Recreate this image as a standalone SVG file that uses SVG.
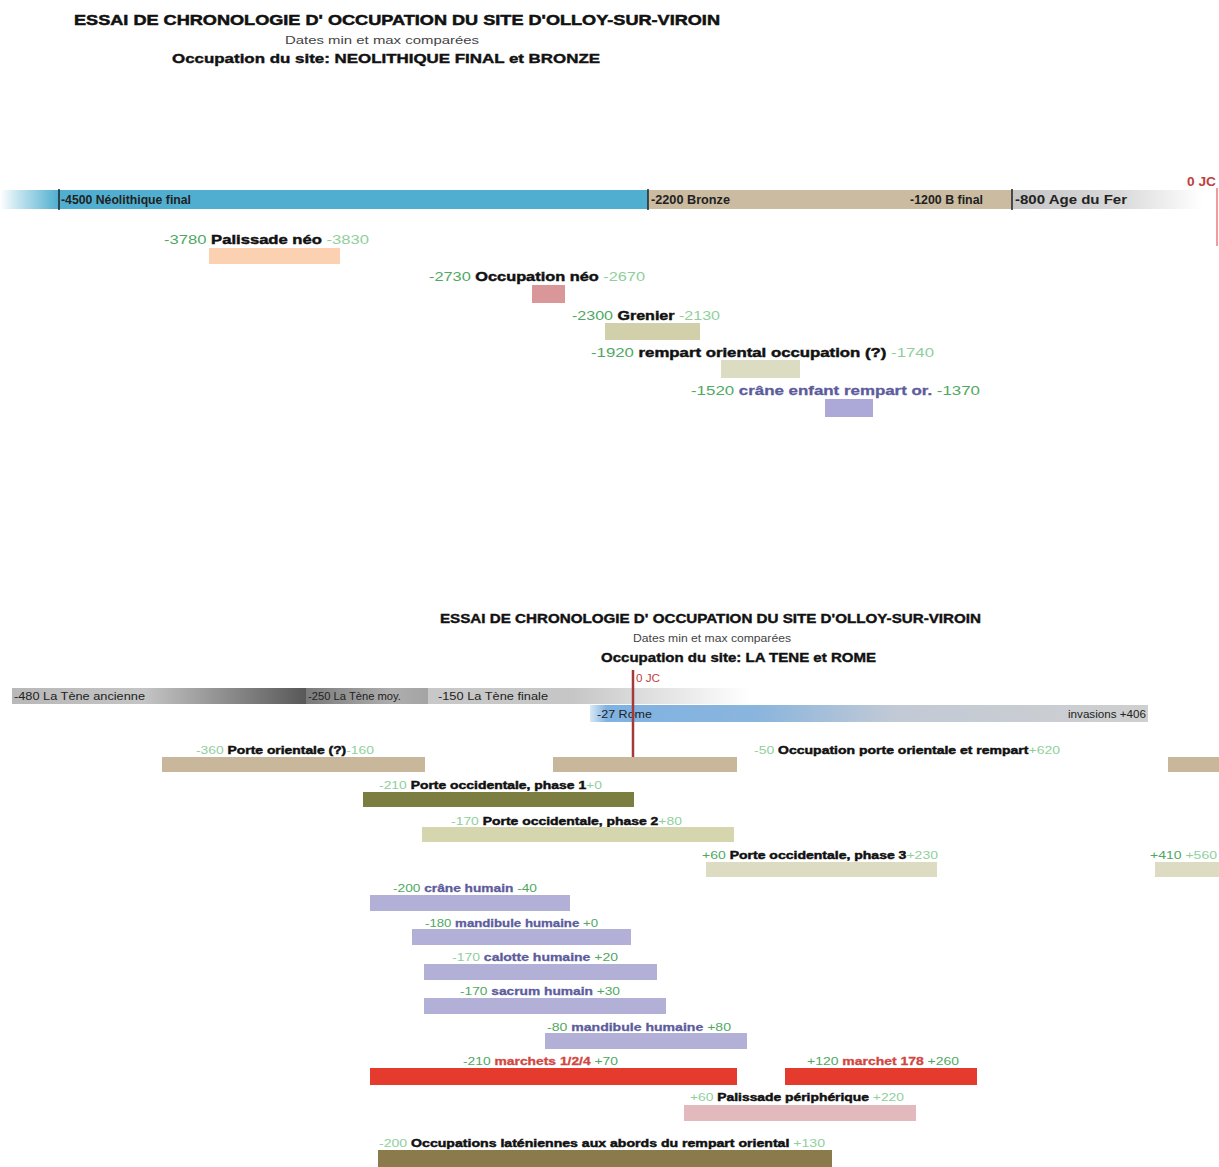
<svg xmlns="http://www.w3.org/2000/svg" width="1219" height="1167" viewBox="0 0 1219 1167">
<defs>
<linearGradient id="gBlue" x1="0" x2="1" y1="0" y2="0"><stop offset="0" stop-color="#50afd0" stop-opacity="0"/><stop offset="0.02" stop-color="#50afd0" stop-opacity="0.25"/><stop offset="0.09" stop-color="#50afd0"/><stop offset="1" stop-color="#50afd0"/></linearGradient>
<linearGradient id="gFer" x1="0" x2="1" y1="0" y2="0"><stop offset="0" stop-color="#c6c6c6"/><stop offset="0.55" stop-color="#d8d8d8"/><stop offset="1" stop-color="#ffffff"/></linearGradient>
<linearGradient id="gTA" x1="0" x2="1" y1="0" y2="0"><stop offset="0" stop-color="#b8b8b8"/><stop offset="0.45" stop-color="#c4c4c4"/><stop offset="1" stop-color="#585858"/></linearGradient>
<linearGradient id="gTM" x1="0" x2="1" y1="0" y2="0"><stop offset="0" stop-color="#7a7a7a"/><stop offset="0.7" stop-color="#aeaeae"/><stop offset="1" stop-color="#a4a4a4"/></linearGradient>
<linearGradient id="gTF" x1="0" x2="1" y1="0" y2="0"><stop offset="0" stop-color="#c8c8c8"/><stop offset="0.45" stop-color="#c6c6c6"/><stop offset="1" stop-color="#ffffff"/></linearGradient>
<linearGradient id="gRome" x1="0" x2="1" y1="0" y2="0"><stop offset="0" stop-color="#7fb2e2" stop-opacity="0.3"/><stop offset="0.03" stop-color="#7fb2e2"/><stop offset="0.3" stop-color="#8ab5dd"/><stop offset="0.55" stop-color="#c2cad6"/><stop offset="1" stop-color="#cfcfcf"/></linearGradient>
</defs>
<style>
text{font-family:"Liberation Sans",Arial,sans-serif}
.t1{font-size:15px;font-weight:bold;fill:#111;stroke:#111;stroke-width:0.5}
.t2{font-size:11px;fill:#444}
.t3{font-size:13px;font-weight:bold;fill:#111;stroke:#111;stroke-width:0.4}
.ax{font-size:12px;font-weight:bold;fill:#222}
.axs{font-size:11px;fill:#222}
.n{fill:#4fa862;font-weight:normal;stroke:none}
.nl{fill:#8fcf9c;font-weight:normal;stroke:none}
.b{fill:#111;font-weight:bold;stroke:#111;stroke-width:0.45}
.p{fill:#5c5c9c;font-weight:bold;stroke:#5c5c9c;stroke-width:0.3}
.r{fill:#d2463f;font-weight:bold;stroke:#d2463f;stroke-width:0.3}
.ev{font-size:13px}
.ev2{font-size:11px}
.tick{stroke:#222;stroke-width:1.5}
.jc{fill:#c04040}
</style>

<g id="header-top">
<text class="t1" x="74" y="25" textLength="646" lengthAdjust="spacingAndGlyphs">ESSAI DE CHRONOLOGIE D' OCCUPATION DU SITE D'OLLOY-SUR-VIROIN</text>
<text class="t2" x="285" y="44" textLength="194" lengthAdjust="spacingAndGlyphs">Dates min et max comparées</text>
<text class="t3" x="172" y="63" textLength="428" lengthAdjust="spacingAndGlyphs">Occupation du site: NEOLITHIQUE FINAL et BRONZE</text>
</g>

<g id="axis-top">
<rect x="0" y="190" width="648" height="19" fill="url(#gBlue)"/>
<rect x="648" y="190" width="364" height="19" fill="#cabba1"/>
<rect x="1012" y="190" width="190" height="19" fill="url(#gFer)"/>
<line class="tick" x1="59" y1="189" x2="59" y2="210"/>
<line class="tick" x1="648" y1="189" x2="648" y2="210"/>
<line class="tick" x1="1012" y1="189" x2="1012" y2="210"/>
<text class="ax" x="61" y="204" textLength="130" lengthAdjust="spacingAndGlyphs">-4500 Néolithique final</text>
<text class="ax" x="651" y="204" textLength="79" lengthAdjust="spacingAndGlyphs">-2200 Bronze</text>
<text class="ax" x="910" y="204" textLength="73" lengthAdjust="spacingAndGlyphs">-1200 B final</text>
<text class="ax" x="1015" y="204" textLength="112" lengthAdjust="spacingAndGlyphs">-800 Age du Fer</text>
<text class="jc" x="1187" y="186" font-size="12" font-weight="bold" textLength="29" lengthAdjust="spacingAndGlyphs">0 JC</text>
<line x1="1217" y1="188" x2="1217" y2="246" stroke="#ee7a7a" stroke-width="1.5"/>
</g>

<g id="palissade-neo">
<text class="ev" x="164" y="244" textLength="205" lengthAdjust="spacingAndGlyphs"><tspan class="n">-3780 </tspan><tspan class="b">Palissade néo </tspan><tspan class="nl">-3830</tspan></text>
<rect x="209" y="248" width="131" height="16" fill="#fbd1b1"/>
</g>
<g id="occupation-neo">
<text class="ev" x="429" y="281" textLength="216" lengthAdjust="spacingAndGlyphs"><tspan class="n">-2730 </tspan><tspan class="b">Occupation néo </tspan><tspan class="nl">-2670</tspan></text>
<rect x="532" y="285" width="33" height="18" fill="#d9979a"/>
</g>
<g id="grenier">
<text class="ev" x="572" y="320" textLength="148" lengthAdjust="spacingAndGlyphs"><tspan class="n">-2300 </tspan><tspan class="b">Grenier </tspan><tspan class="nl">-2130</tspan></text>
<rect x="605" y="323" width="95" height="17" fill="#d1d0aa"/>
</g>
<g id="rempart-oriental">
<text class="ev" x="591" y="357" textLength="343" lengthAdjust="spacingAndGlyphs"><tspan class="n">-1920 </tspan><tspan class="b">rempart oriental occupation (?) </tspan><tspan class="nl">-1740</tspan></text>
<rect x="721" y="360" width="79" height="18" fill="#dcdcc2"/>
</g>
<g id="crane-enfant">
<text class="ev" x="691" y="395" textLength="289" lengthAdjust="spacingAndGlyphs"><tspan class="n">-1520 </tspan><tspan class="p">crâne enfant rempart or. </tspan><tspan class="n">-1370</tspan></text>
<rect x="825" y="399" width="48" height="18" fill="#aca8d8"/>
</g>

<g id="header-bottom">
<text class="t3" x="440" y="623" textLength="541" lengthAdjust="spacingAndGlyphs">ESSAI DE CHRONOLOGIE D' OCCUPATION DU SITE D'OLLOY-SUR-VIROIN</text>
<text class="t2" x="633" y="642" font-size="10" textLength="158" lengthAdjust="spacingAndGlyphs">Dates min et max comparées</text>
<text class="t3" x="601" y="662" textLength="275" lengthAdjust="spacingAndGlyphs">Occupation du site: LA TENE et ROME</text>
</g>

<g id="axis-bottom">
<rect x="12" y="688" width="294" height="16" fill="url(#gTA)"/>
<rect x="306" y="688" width="122" height="16" fill="url(#gTM)"/>
<rect x="428" y="688" width="322" height="16" fill="url(#gTF)"/>
<rect x="590" y="705" width="558" height="17" fill="url(#gRome)"/>
<text class="axs" x="14" y="700" textLength="131" lengthAdjust="spacingAndGlyphs">-480 La Tène ancienne</text>
<text class="axs" x="308" y="700" textLength="93" lengthAdjust="spacingAndGlyphs">-250 La Tène moy.</text>
<text class="axs" x="438" y="700" textLength="110" lengthAdjust="spacingAndGlyphs">-150 La Tène finale</text>
<text class="axs" x="597" y="718" font-size="12" textLength="55" lengthAdjust="spacingAndGlyphs">-27 Rome</text>
<text class="axs" x="1068" y="718" font-size="10" fill="#555" textLength="78" lengthAdjust="spacingAndGlyphs">invasions +406</text>
<text class="jc" x="636" y="682" font-size="10" textLength="24" lengthAdjust="spacingAndGlyphs">0 JC</text>
<line x1="633" y1="670" x2="633" y2="760" stroke="#a33a3a" stroke-width="2.5"/>
</g>

<g id="porte-orientale">
<text class="ev2" x="196" y="754" textLength="178" lengthAdjust="spacingAndGlyphs"><tspan class="nl">-360 </tspan><tspan class="b">Porte orientale (?)</tspan><tspan class="nl">-160</tspan></text>
<rect x="162" y="757" width="263" height="15" fill="#c9b79b"/>
</g>
<g id="occupation-porte-orientale">
<text class="ev2" x="754" y="754" textLength="306" lengthAdjust="spacingAndGlyphs"><tspan class="nl">-50 </tspan><tspan class="b">Occupation porte orientale et rempart</tspan><tspan class="nl">+620</tspan></text>
<rect x="553" y="757" width="184" height="15" fill="#c9b79b"/>
<rect x="1168" y="757" width="51" height="15" fill="#c9b79b"/>
</g>
<g id="porte-occ-1">
<text class="ev2" x="379" y="789" textLength="223" lengthAdjust="spacingAndGlyphs"><tspan class="nl">-210 </tspan><tspan class="b">Porte occidentale, phase 1</tspan><tspan class="nl">+0</tspan></text>
<rect x="363" y="792" width="271" height="15" fill="#7c7d40"/>
</g>
<g id="porte-occ-2">
<text class="ev2" x="451" y="825" textLength="231" lengthAdjust="spacingAndGlyphs"><tspan class="nl">-170 </tspan><tspan class="b">Porte occidentale, phase 2</tspan><tspan class="nl">+80</tspan></text>
<rect x="422" y="827" width="312" height="15" fill="#d6d6ae"/>
</g>
<g id="porte-occ-3">
<text class="ev2" x="702" y="859" textLength="236" lengthAdjust="spacingAndGlyphs"><tspan class="n">+60 </tspan><tspan class="b">Porte occidentale, phase 3</tspan><tspan class="nl">+230</tspan></text>
<rect x="706" y="862" width="231" height="15" fill="#dddcc3"/>
</g>
<g id="porte-occ-4">
<text class="ev2" x="1150" y="859" textLength="67" lengthAdjust="spacingAndGlyphs"><tspan class="n">+410 </tspan><tspan class="nl">+560</tspan></text>
<rect x="1155" y="862" width="64" height="15" fill="#dddcc3"/>
</g>
<g id="crane-humain">
<text class="ev2" x="393" y="892" textLength="144" lengthAdjust="spacingAndGlyphs"><tspan class="n">-200 </tspan><tspan class="p">crâne humain </tspan><tspan class="n">-40</tspan></text>
<rect x="370" y="895" width="200" height="16" fill="#b3b0d7"/>
</g>
<g id="mandibule-1">
<text class="ev2" x="425" y="927" textLength="173" lengthAdjust="spacingAndGlyphs"><tspan class="n">-180 </tspan><tspan class="p">mandibule humaine </tspan><tspan class="n">+0</tspan></text>
<rect x="412" y="929" width="219" height="16" fill="#b3b0d7"/>
</g>
<g id="calotte">
<text class="ev2" x="452" y="961" textLength="166" lengthAdjust="spacingAndGlyphs"><tspan class="nl">-170 </tspan><tspan class="p">calotte humaine </tspan><tspan class="n">+20</tspan></text>
<rect x="424" y="964" width="233" height="16" fill="#b3b0d7"/>
</g>
<g id="sacrum">
<text class="ev2" x="460" y="995" textLength="160" lengthAdjust="spacingAndGlyphs"><tspan class="n">-170 </tspan><tspan class="p">sacrum humain </tspan><tspan class="n">+30</tspan></text>
<rect x="424" y="998" width="242" height="16" fill="#b3b0d7"/>
</g>
<g id="mandibule-2">
<text class="ev2" x="547" y="1031" textLength="184" lengthAdjust="spacingAndGlyphs"><tspan class="n">-80 </tspan><tspan class="p">mandibule humaine </tspan><tspan class="n">+80</tspan></text>
<rect x="545" y="1033" width="202" height="16" fill="#b3b0d7"/>
</g>
<g id="marchets">
<text class="ev2" x="463" y="1065" textLength="155" lengthAdjust="spacingAndGlyphs"><tspan class="n">-210 </tspan><tspan class="r">marchets 1/2/4 </tspan><tspan class="n">+70</tspan></text>
<rect x="370" y="1068" width="367" height="17" fill="#e53b2f"/>
</g>
<g id="marchet-178">
<text class="ev2" x="807" y="1065" textLength="152" lengthAdjust="spacingAndGlyphs"><tspan class="n">+120 </tspan><tspan class="r">marchet 178 </tspan><tspan class="n">+260</tspan></text>
<rect x="785" y="1068" width="192" height="17" fill="#e53b2f"/>
</g>
<g id="palissade-peripherique">
<text class="ev2" x="690" y="1101" textLength="214" lengthAdjust="spacingAndGlyphs"><tspan class="nl">+60 </tspan><tspan class="b">Palissade périphérique </tspan><tspan class="nl">+220</tspan></text>
<rect x="684" y="1105" width="232" height="16" fill="#e2b9bd"/>
</g>
<g id="occupations-lateniennes">
<text class="ev2" x="379" y="1147" textLength="446" lengthAdjust="spacingAndGlyphs"><tspan class="nl">-200 </tspan><tspan class="b">Occupations laténiennes aux abords du rempart oriental </tspan><tspan class="nl">+130</tspan></text>
<rect x="378" y="1150" width="454" height="17" fill="#8b7a4b"/>
</g>
<g id="connectors"></g>
</svg>
